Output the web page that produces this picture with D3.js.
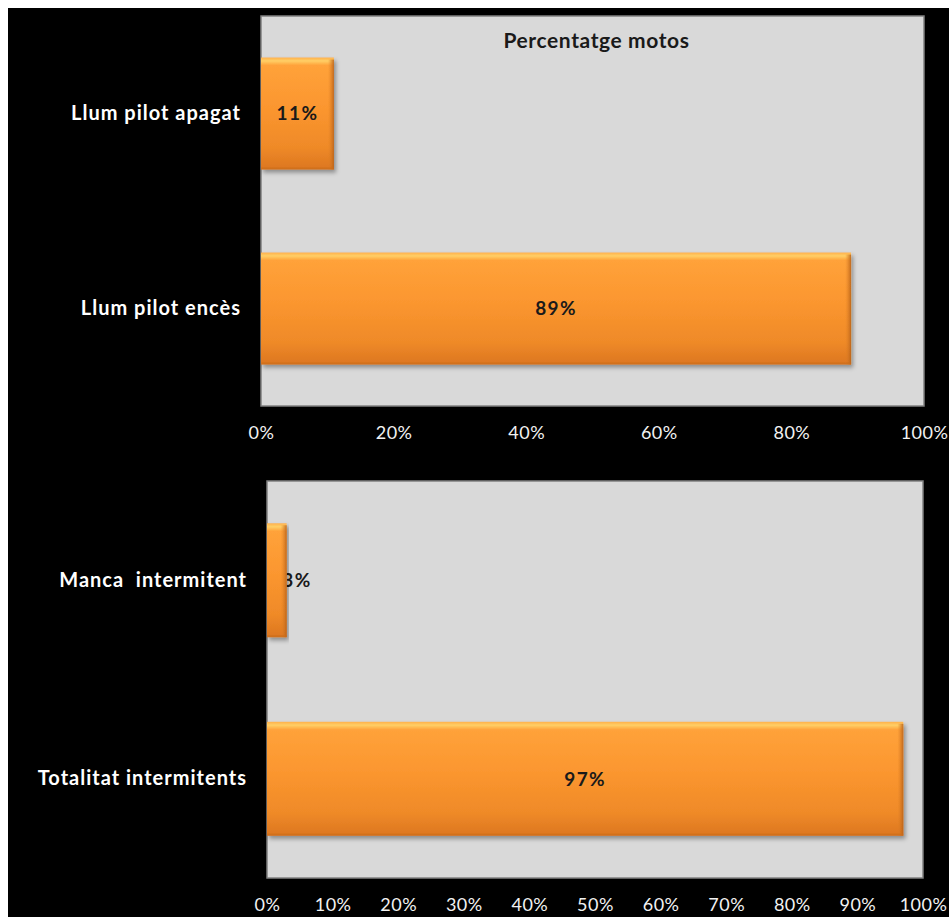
<!DOCTYPE html>
<html>
<head>
<meta charset="utf-8">
<script src="https://cdn.jsdelivr.net/npm/d3@7/dist/d3.min.js"></script>
<style>
  html, body { margin: 0; padding: 0; background: #ffffff; }
  svg { display: block; }
</style>
</head>
<body>
<script>
// Percentatge de motos: llum pilot i intermitents
const chartTitle = "Percentatge motos";

const pilotCategories = ["Llum pilot apagat", "Llum pilot encès"];
const pilotValues = [11, 89];
const pilotTicks = [0, 20, 40, 60, 80, 100];

const blinkerCategories = ["Manca  intermitent", "Totalitat intermitents"];
const blinkerValues = [3, 97];
const blinkerTicks = [0, 10, 20, 30, 40, 50, 60, 70, 80, 90, 100];

const W = 949, H = 917;
const FONT = "Lato, 'Open Sans', 'DejaVu Sans', sans-serif";

const svg = d3.select("body").append("svg")
  .attr("width", W).attr("height", H);

// frame: white margin on top/left, black canvas
svg.append("rect").attr("width", W).attr("height", H).attr("fill", "#ffffff");
svg.append("rect").attr("x", 8).attr("y", 8).attr("width", W - 8).attr("height", H - 8).attr("fill", "#000000");

const defs = svg.append("defs");
const grad = defs.append("linearGradient").attr("id", "barFill")
  .attr("x1", 0).attr("y1", 0).attr("x2", 0).attr("y2", 1);
[[0, "#ffb04a"], [0.03, "#ffcf66"], [0.07, "#ffa23a"], [0.45, "#fb962f"], [0.8, "#ef8a28"], [1, "#dc7620"]]
  .forEach(([o, c]) => grad.append("stop").attr("offset", o).attr("stop-color", c));

const edge = defs.append("linearGradient").attr("id", "barEdge")
  .attr("x1", 0).attr("y1", 0).attr("x2", 1).attr("y2", 0);
edge.append("stop").attr("offset", 0).attr("stop-color", "#e08024").attr("stop-opacity", 0);
edge.append("stop").attr("offset", 1).attr("stop-color", "#b8621a").attr("stop-opacity", 0.9);

const shadow = defs.append("filter").attr("id", "barShadow")
  .attr("x", "-5%").attr("y", "-10%").attr("width", "115%").attr("height", "130%");
shadow.append("feDropShadow").attr("dx", 2).attr("dy", 3).attr("stdDeviation", 2)
  .attr("flood-color", "#000").attr("flood-opacity", 0.35);

function drawPanel(cfg) {
  const { categories, values, ticks, x0, x1, y0, y1, title } = cfg;
  const g = svg.append("g");

  const x = d3.scaleLinear().domain([0, 100]).range([x0, x1]);
  const y = d3.scaleBand().domain(categories).range([y0, y1])
    .paddingInner(0.426).paddingOuter(0.213);

  // plot area
  g.append("rect")
    .attr("x", x0).attr("y", y0).attr("width", x1 - x0).attr("height", y1 - y0)
    .attr("fill", "#d9d9d9").attr("stroke", "#808080").attr("stroke-width", 1.5);

  if (title) {
    g.append("text")
      .attr("x", (x0 + x1) / 2 + 4).attr("y", y0 + 32)
      .attr("text-anchor", "middle")
      .attr("font-family", FONT).attr("font-weight", "bold").attr("font-size", 21)
      .attr("letter-spacing", 0.6)
      .attr("fill", "#1a1a1a")
      .text(title);
  }

  const data = categories.map((c, i) => ({ c, v: values[i] }));
  const labelText = d => d.v + "%";
  const labelX = d => Math.max((x(0) + x(d.v)) / 2, x(0) + 30);

  // labels that do not fit inside their bar sit behind it
  const under = g.append("g");
  const bars = g.append("g");
  const over = g.append("g");

  const bar = bars.selectAll("g.bar").data(data).join("g").attr("class", "bar")
    .attr("filter", "url(#barShadow)");
  bar.append("rect")
    .attr("x", x(0)).attr("y", d => y(d.c))
    .attr("width", d => x(d.v) - x(0)).attr("height", y.bandwidth())
    .attr("fill", "url(#barFill)");
  // bevel: darker right edge and bottom edge
  bar.append("rect")
    .attr("x", d => x(d.v) - Math.min(6, (x(d.v) - x(0)) / 3)).attr("y", d => y(d.c) + 2)
    .attr("width", d => Math.min(6, (x(d.v) - x(0)) / 3)).attr("height", y.bandwidth() - 2)
    .attr("fill", "url(#barEdge)");
  bar.append("rect")
    .attr("x", x(0)).attr("y", d => y(d.c) + y.bandwidth() - 2)
    .attr("width", d => x(d.v) - x(0)).attr("height", 2)
    .attr("fill", "#c96c1c").attr("opacity", 0.6);

  data.forEach(d => {
    const layer = (x(d.v) - x(0)) < 36 ? under : over;
    layer.append("text")
      .attr("x", labelX(d)).attr("y", y(d.c) + y.bandwidth() / 2)
      .attr("dy", "0.36em").attr("text-anchor", "middle")
      .attr("font-family", FONT).attr("font-weight", "bold").attr("font-size", 19)
      .attr("letter-spacing", 1.4)
      .attr("fill", "#1a1a1a")
      .text(labelText(d));
  });

  // category axis
  const yAxis = g.append("g").attr("transform", `translate(${x0},0)`)
    .call(d3.axisLeft(y).tickSize(0).tickPadding(20));
  yAxis.select(".domain").remove();
  yAxis.selectAll("text")
    .attr("font-family", FONT).attr("font-weight", "bold").attr("font-size", 20)
    .attr("letter-spacing", 1)
    .attr("fill", "#ffffff").style("white-space", "pre");

  // value axis
  const xAxis = g.append("g").attr("transform", `translate(0,${y1})`)
    .call(d3.axisBottom(x).tickValues(ticks).tickSize(0).tickPadding(20).tickFormat(d => d + "%"));
  xAxis.select(".domain").remove();
  xAxis.selectAll("text")
    .attr("font-family", FONT).attr("font-size", 18).attr("letter-spacing", 0.5)
    .attr("fill", "#f2f2f2");
}

drawPanel({ categories: pilotCategories, values: pilotValues, ticks: pilotTicks,
  x0: 261, x1: 924, y0: 16, y1: 406, title: chartTitle });
drawPanel({ categories: blinkerCategories, values: blinkerValues, ticks: blinkerTicks,
  x0: 267, x1: 923, y0: 481, y1: 878 });
</script>
</body>
</html>
